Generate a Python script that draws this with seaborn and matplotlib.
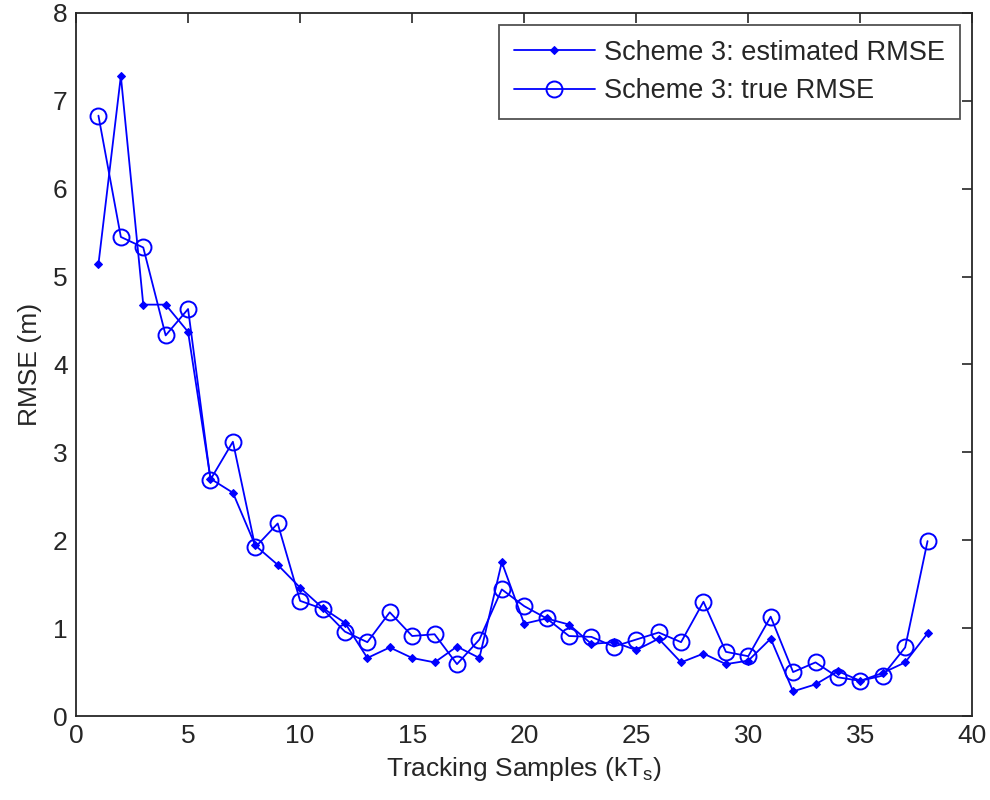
import numpy as np
import pandas as pd
import matplotlib
matplotlib.use("Agg")
import matplotlib.pyplot as plt
import seaborn as sns

samples = list(range(1, 39))
estimated_rmse = [5.14, 7.28, 4.68, 4.68, 4.37, 2.70, 2.54, 1.94, 1.72, 1.46,
                  1.23, 1.06, 0.66, 0.78, 0.66, 0.61, 0.79, 0.66, 1.75, 1.05,
                  1.11, 1.04, 0.82, 0.84, 0.75, 0.88, 0.61, 0.71, 0.59, 0.63,
                  0.88, 0.28, 0.36, 0.51, 0.40, 0.49, 0.61, 0.94]
true_rmse = [6.83, 5.45, 5.33, 4.33, 4.63, 2.69, 3.12, 1.92, 2.19, 1.31,
             1.22, 0.96, 0.84, 1.18, 0.91, 0.93, 0.59, 0.87, 1.44, 1.25,
             1.11, 0.91, 0.90, 0.79, 0.87, 0.95, 0.84, 1.30, 0.73, 0.68,
             1.13, 0.50, 0.61, 0.44, 0.40, 0.46, 0.78, 1.99]
x_ticks = [0, 5, 10, 15, 20, 25, 30, 35, 40]
y_ticks = [0, 1, 2, 3, 4, 5, 6, 7, 8]
labels = ["Scheme 3: estimated RMSE", "Scheme 3: true RMSE"]

sns.set_style("white")
plt.rcParams['font.family'] = ['Liberation Sans', 'DejaVu Sans']

fig = plt.figure(figsize=(9.9, 8), dpi=100)
ax = fig.add_axes([0.0768, 0.105, 0.9054, 0.879])

df = pd.DataFrame({"k": samples, "est": estimated_rmse, "true": true_rmse})
blue = (0, 0, 1)
sns.lineplot(data=df, x="k", y="est", ax=ax, color=blue, lw=1.3,
             marker="D", markersize=4.5, markeredgecolor=blue,
             markerfacecolor=blue, label=labels[0])
sns.lineplot(data=df, x="k", y="true", ax=ax, color=blue, lw=1.3,
             marker="o", markersize=11.5, markeredgecolor=blue,
             markerfacecolor="none", markeredgewidth=1.4, label=labels[1])

ax.set_xlim(0, 40)
ax.set_ylim(0, 8)
ax.set_xticks(x_ticks)
ax.set_yticks(y_ticks)
ax.tick_params(direction="in", length=7.5, width=1.2, top=True, right=True,
               labelsize=19, colors="#262626", pad=6)
for s in ax.spines.values():
    s.set_color("#262626")
    s.set_linewidth(1.3)
ax.set_xlabel("Tracking Samples (kT$_\\mathregular{s}$)", fontsize=19, color="#262626", labelpad=5)
ax.set_ylabel("RMSE (m)", fontsize=19, color="#262626", labelpad=8)

leg = ax.legend(loc="upper right", fontsize=19.5, frameon=True, fancybox=False,
                edgecolor="#262626", handlelength=3.0, borderaxespad=0.45,
                labelspacing=0.45, handletextpad=0.35, borderpad=0.55)
leg.get_frame().set_linewidth(1.3)

fig.savefig("out.png", dpi=100, facecolor="white")
